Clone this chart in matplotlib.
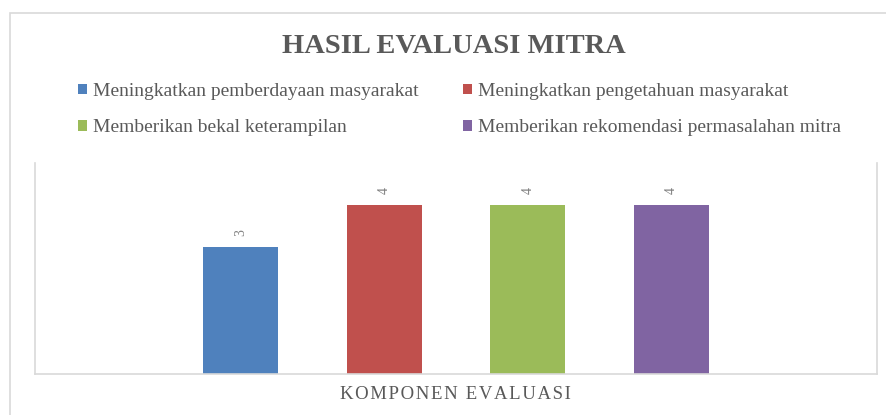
import matplotlib
matplotlib.use("Agg")
import matplotlib.pyplot as plt
from matplotlib.patches import Rectangle

# ---- data ----
categories = ["Meningkatkan pemberdayaan masyarakat",
              "Meningkatkan pengetahuan masyarakat",
              "Memberikan bekal keterampilan",
              "Memberikan rekomendasi permasalahan mitra"]
values = [3, 4, 4, 4]
colors = ["#4f81bd", "#c0504d", "#9bbb59", "#8064a2"]
title = "HASIL EVALUASI MITRA"
xlabel = "KOMPONEN EVALUASI"

W, H = 886, 415
plt.rcParams['font.family'] = ['Liberation Serif', 'DejaVu Serif']
fig = plt.figure(figsize=(W / 100, H / 100), dpi=100)
fig.patch.set_facecolor("white")

# outer chart frame
fig.patches.append(Rectangle((10 / W, -0.1), 1.0, (H - 13) / H + 0.1,
                             transform=fig.transFigure, fill=False,
                             edgecolor="#d9d9d9", linewidth=1.2))

def spaced(s, sep="\u200a"):
    return sep.join(list(s))

ax = fig.add_axes([35 / W, 1 - 374 / H, (877 - 35) / W, (374 - 163) / H])
xs = list(range(len(values)))
bars = []
for x, v, c, lab in zip(xs, values, colors, categories):
    b = ax.bar(x, v, width=0.52, color=c, label=lab, zorder=2)
    bars.append(b)
    ax.text(x, v + 0.35, str(v), rotation=90, ha="center", va="center",
            fontsize=10, color="#7f7f7f")

ax.set_xlim(-1.43, 4.43)
ax.set_ylim(0, 5)
ax.set_xticks([])
ax.set_yticks([])
for s in ["left", "right", "bottom"]:
    ax.spines[s].set_color("#d9d9d9")
    ax.spines[s].set_linewidth(1.2)
ax.spines["top"].set_visible(False)

fig.text(454 / W, 1 - 46.5 / H, title, ha="center", va="center",
         fontsize=20.5, fontweight="bold", color="#595959")
fig.text(455 / W, 1 - 394 / H, spaced(xlabel, "\u200a"), ha="center", va="center",
         fontsize=13.5, color="#595959")

order = [0, 2, 1, 3]
leg = fig.legend([bars[i] for i in order], [categories[i] for i in order],
                 ncol=2, loc="upper left", bbox_to_anchor=(78 / W, 1 - 83 / H),
                 frameon=False, fontsize=14, handlelength=0.45, handleheight=0.45,
                 handletextpad=0.3, columnspacing=2.3, labelspacing=1.0,
                 borderaxespad=0, borderpad=0)
for t in leg.get_texts():
    t.set_color("#595959")

fig.savefig("out.png", dpi=100)
